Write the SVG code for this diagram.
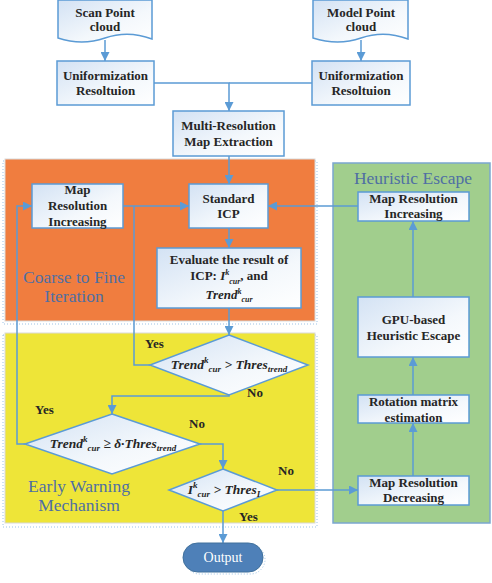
<svg xmlns="http://www.w3.org/2000/svg" width="492" height="583" viewBox="0 0 492 583">
<defs>
<linearGradient id="ng" x1="0" y1="0" x2="1" y2="1">
<stop offset="0" stop-color="#D3E2F4"/>
<stop offset="0.6" stop-color="#F4F8FC"/>
<stop offset="1" stop-color="#FFFFFF"/>
</linearGradient>
<marker id="ah" markerUnits="userSpaceOnUse" markerWidth="9" markerHeight="9" refX="9" refY="4.5" orient="auto" viewBox="0 0 9 9">
<path d="M0,0 L9,4.5 L0,9 Z" fill="#5B9BD5"/>
</marker>
</defs>
<style>
text{font-family:"Liberation Serif","Times New Roman","DejaVu Serif",serif}
.n{fill:url(#ng);stroke:#5B9BD5;stroke-width:1.5}
.t{font-weight:bold;font-size:13px;fill:#262626;text-anchor:middle}
.m{font-weight:bold;font-style:italic;font-size:13.5px;fill:#262626;text-anchor:middle}
.s{font-size:9px}
.e{font-size:8px}
.l{font-weight:bold;font-size:13px;fill:#262626}
.r{font-size:17.5px;fill:#4F6FA3;text-anchor:middle}
.c{fill:none;stroke:#5B9BD5;stroke-width:1.5}
.ca{fill:none;stroke:#5B9BD5;stroke-width:1.5;marker-end:url(#ah)}
.sh{fill:none;stroke:#9DC3E6;stroke-width:1;stroke-dasharray:1 2}
</style>
<g id="regions">
<rect class="sh" x="3" y="161" width="314" height="163"/>
<rect x="5" y="159" width="310" height="162" fill="#F07D3F" stroke="#D9D9D9" stroke-width="1"/>
<rect class="sh" x="3" y="335" width="314" height="192"/>
<rect x="5" y="333" width="310" height="190" fill="#EEE538" stroke="#D9D9D9" stroke-width="1"/>
<rect x="333" y="163" width="157" height="360" fill="#A1CE8D" stroke="#7BA7CF" stroke-width="1.5"/>
<text class="r" x="74" y="283">Coarse to Fine</text>
<text class="r" x="74" y="302">Iteration</text>
<text class="r" x="413" y="184">Heuristic Escape</text>
<text class="r" x="79" y="492">Early Warning</text>
<text class="r" x="79" y="511">Mechanism</text>
</g>
<g id="connectors">
<path class="ca" d="M105,40 V61"/>
<path class="ca" d="M361,40 V61"/>
<path class="ca" d="M154,83 H229 V111"/>
<path class="c" d="M312,83 H229"/>
<path class="ca" d="M229,156 V184"/>
<path class="ca" d="M123,206 H189"/>
<path class="ca" d="M358,206 H268"/>
<path class="ca" d="M229,228 V248"/>
<path class="ca" d="M229,308 V335"/>
<path class="c" d="M150,365 H134 V206"/>
<path class="ca" d="M229,395 V396 H112 V414"/>
<path class="ca" d="M25,444 H17 V206 H32"/>
<path class="ca" d="M200,444 H223 V469"/>
<path class="ca" d="M277,490 H358"/>
<path class="ca" d="M223,511 V543"/>
<path class="ca" d="M413,476 V423"/>
<path class="ca" d="M413,395 V357"/>
<path class="ca" d="M413,297 V221"/>
</g>
<g id="scan">
<path class="n" d="M58,0 H152 V39 Q128,30 105,38 T58,38 Z"/>
<text class="t" x="105" y="16.5">Scan Point</text>
<text class="t" x="105" y="31">cloud</text>
</g>
<g id="model">
<path class="n" d="M313,0 H408 V39 Q384,30 361,38 T313,38 Z"/>
<text class="t" x="361" y="16.5">Model Point</text>
<text class="t" x="361" y="31">cloud</text>
</g>
<g id="unif1">
<rect class="n" x="57" y="61" width="97" height="44"/>
<text class="t" x="105.5" y="80">Uniformization</text>
<text class="t" x="105.5" y="95">Resoltuion</text>
</g>
<g id="unif2">
<rect class="n" x="312" y="61" width="98" height="44"/>
<text class="t" x="361" y="80">Uniformization</text>
<text class="t" x="361" y="95">Resoltuion</text>
</g>
<g id="multires">
<rect class="n" x="173" y="111" width="111" height="45"/>
<text class="t" x="228.5" y="130">Multi-Resolution</text>
<text class="t" x="228.5" y="146">Map Extraction</text>
</g>
<g id="mapinc-left">
<rect class="n" x="32" y="184" width="91" height="44"/>
<text class="t" x="77.5" y="194">Map</text>
<text class="t" x="77.5" y="210">Resolution</text>
<text class="t" x="77.5" y="225.5">Increasing</text>
</g>
<g id="icp">
<rect class="n" x="189" y="184" width="79" height="44"/>
<text class="t" x="228.5" y="203">Standard</text>
<text class="t" x="228.5" y="218">ICP</text>
</g>
<g id="evaluate">
<rect class="n" x="157" y="248" width="144" height="60"/>
<text class="t" x="229" y="264">Evaluate the result of</text>
<text class="t" x="229" y="280">ICP: <tspan font-style="italic">I</tspan><tspan class="e" font-style="italic" dy="-5">k</tspan><tspan class="e" font-style="italic" dy="9">cur</tspan><tspan dy="-4">, and</tspan></text>
<text class="t" x="229" y="299" font-style="italic">Trend<tspan class="e" dy="-5">k</tspan><tspan class="e" dy="8">cur</tspan></text>
</g>
<g id="mapinc-right">
<rect class="n" x="358" y="192" width="111" height="29"/>
<text class="t" x="413.5" y="203">Map Resolution</text>
<text class="t" x="413.5" y="218">Increasing</text>
</g>
<g id="gpu">
<rect class="n" x="358" y="297" width="111" height="60"/>
<text class="t" x="413.5" y="324">GPU-based</text>
<text class="t" x="413.5" y="340">Heuristic Escape</text>
</g>
<g id="rotation">
<rect class="n" x="358" y="395" width="111" height="28"/>
<text class="t" x="413.5" y="406">Rotation matrix</text>
<text class="t" x="413.5" y="422">estimation</text>
</g>
<g id="mapdec">
<rect class="n" x="358" y="476" width="111" height="29"/>
<text class="t" x="413.5" y="487">Map Resolution</text>
<text class="t" x="413.5" y="502">Decreasing</text>
</g>
<g id="dec1">
<polygon class="n" points="229,335 308,365 229,395 150,365"/>
<text class="m" x="229" y="369">Trend<tspan class="s" dy="-6">k</tspan><tspan class="s" dy="9">cur</tspan><tspan dy="-3"> &gt; Thres</tspan><tspan class="s" dy="3">trend</tspan></text>
</g>
<g id="dec2">
<polygon class="n" points="112,414 200,444 112,474 25,444"/>
<text class="m" x="113" y="448">Trend<tspan class="s" dy="-6">k</tspan><tspan class="s" dy="9">cur</tspan><tspan dy="-3"> ≥ δ·Thres</tspan><tspan class="s" dy="3">trend</tspan></text>
</g>
<g id="dec3">
<polygon class="n" points="223,469 277,490 223,511 169,490"/>
<text class="m" x="224" y="494">I<tspan class="s" dy="-6">k</tspan><tspan class="s" dy="9">cur</tspan><tspan dy="-3"> &gt; Thres</tspan><tspan class="s" dy="3">I</tspan></text>
</g>
<g id="output">
<rect x="185" y="545" width="80" height="29" rx="14.5" fill="none" stroke="#9DC3E6" stroke-dasharray="1 2"/>
<rect x="183" y="543" width="80" height="29" rx="14.5" fill="#4E80B8" stroke="#41719C" stroke-width="1"/>
<text x="223" y="562" font-size="14" fill="#FFFFFF" text-anchor="middle">Output</text>
</g>
<g id="labels">
<text class="l" x="145" y="348">Yes</text>
<text class="l" x="247" y="397">No</text>
<text class="l" x="35" y="414">Yes</text>
<text class="l" x="189" y="428">No</text>
<text class="l" x="278" y="475">No</text>
<text class="l" x="239" y="521">Yes</text>
</g>
</svg>
